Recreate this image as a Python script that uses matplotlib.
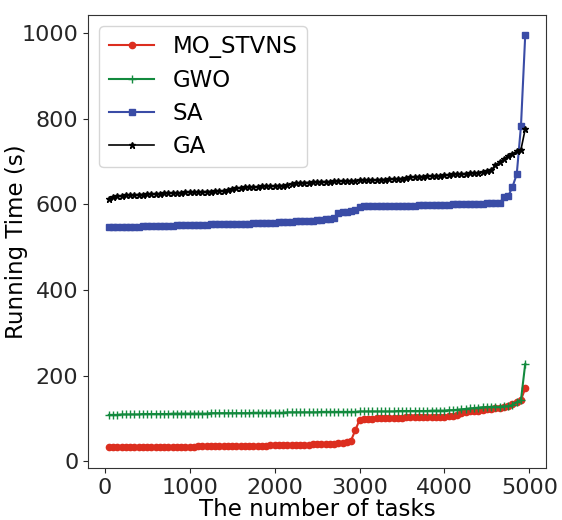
import numpy as np
import matplotlib
matplotlib.use("Agg")
import matplotlib.pyplot as plt

# number of tasks per run
tasks = np.arange(50, 5000, 50)

# running time (s) of each algorithm, sorted per run
mo_stvns = [
    32, 32, 32, 32, 33, 33, 33, 33, 33, 33,
    33, 33, 33, 34, 34, 34, 34, 34, 34, 34,
    34, 35, 35, 35, 35, 35, 35, 35, 35, 35,
    36, 36, 36, 36, 36, 36, 36, 36, 37, 37,
    37, 37, 37, 37, 38, 38, 38, 38, 39, 39,
    40, 40, 41, 41, 42, 43, 45, 48, 72, 96,
    98, 99, 99, 100, 100, 100, 101, 101, 101, 101,
    102, 102, 102, 102, 103, 103, 103, 104, 104, 104,
    105, 106, 107, 113, 115, 116, 117, 118, 120, 121,
    122, 123, 124, 126, 128, 134, 138, 143, 170,
]
gwo = [
    108, 108, 108, 109, 109, 109, 109, 109, 110, 110,
    110, 110, 110, 110, 110, 111, 111, 111, 111, 111,
    111, 111, 111, 111, 112, 112, 112, 112, 112, 112,
    112, 112, 112, 112, 113, 113, 113, 113, 113, 113,
    113, 113, 114, 114, 114, 114, 114, 114, 114, 114,
    115, 115, 115, 115, 115, 115, 115, 115, 115, 116,
    116, 116, 116, 116, 116, 116, 116, 116, 117, 117,
    117, 117, 117, 117, 117, 117, 118, 118, 118, 118,
    119, 119, 120, 121, 122, 123, 124, 125, 126, 126,
    127, 127, 127, 128, 128, 131, 138, 143, 227,
]
sa = [
    546, 547, 547, 547, 548, 548, 548, 548, 549, 549,
    549, 549, 550, 550, 550, 550, 551, 551, 551, 551,
    552, 552, 552, 552, 553, 553, 553, 553, 554, 554,
    554, 555, 555, 555, 556, 556, 556, 557, 557, 557,
    558, 558, 559, 559, 560, 560, 561, 562, 562, 563,
    564, 565, 566, 568, 579, 581, 583, 585, 587, 594,
    595, 595, 595, 596, 596, 596, 596, 596, 597, 597,
    597, 597, 597, 598, 598, 598, 598, 599, 599, 599,
    599, 600, 600, 600, 600, 601, 601, 601, 601, 602,
    602, 603, 603, 617, 619, 641, 670, 783, 995,
]
ga = [
    612, 618, 619, 620, 621, 622, 622, 623, 623, 624,
    624, 625, 625, 626, 626, 626, 627, 627, 628, 628,
    628, 629, 629, 630, 630, 631, 631, 632, 633, 636,
    638, 639, 640, 640, 641, 641, 642, 642, 643, 643,
    644, 644, 645, 648, 649, 650, 651, 651, 652, 652,
    653, 653, 653, 654, 654, 654, 655, 655, 655, 656,
    656, 656, 657, 657, 658, 658, 659, 659, 660, 660,
    662, 663, 664, 665, 665, 666, 666, 667, 667, 668,
    669, 670, 670, 671, 672, 673, 673, 674, 676, 678,
    680, 692, 699, 706, 713, 718, 724, 728, 776,
]

plt.rcParams["font.family"] = "DejaVu Sans"
plt.rcParams["font.size"] = 16

fig = plt.figure(figsize=(5.62, 5.2), dpi=100)
ax = fig.add_axes([0.1566, 0.1, 0.815, 0.8717])

ax.plot(tasks, mo_stvns, color="#dc2e1f", marker="o", markersize=4.5,
        linewidth=1.5, label="MO_STVNS")
ax.plot(tasks, gwo, color="#138a3e", marker="+", markersize=5.5,
        linewidth=1.5, label="GWO")
ax.plot(tasks, sa, color="#3a4ca6", marker="s", markersize=4.5,
        linewidth=1.5, label="SA")
ax.plot(tasks, ga, color="black", marker="*", markersize=4.5,
        linewidth=1.2, label="GA")

ax.set_xlabel("The number of tasks", fontsize=16.5, labelpad=0)
ax.set_ylabel("Running Time (s)", fontsize=16.5)
ax.yaxis.set_label_coords(-0.132, 0.5)
ax.set_xticks([0, 1000, 2000, 3000, 4000, 5000])
ax.set_yticks([0, 200, 400, 600, 800, 1000])

for s in ax.spines.values():
    s.set_color("0.2")
ax.tick_params(colors="0.15")

ax.legend(loc="upper left", fontsize=16.5, labelspacing=0.45)

fig.savefig("out.png", dpi=100)
